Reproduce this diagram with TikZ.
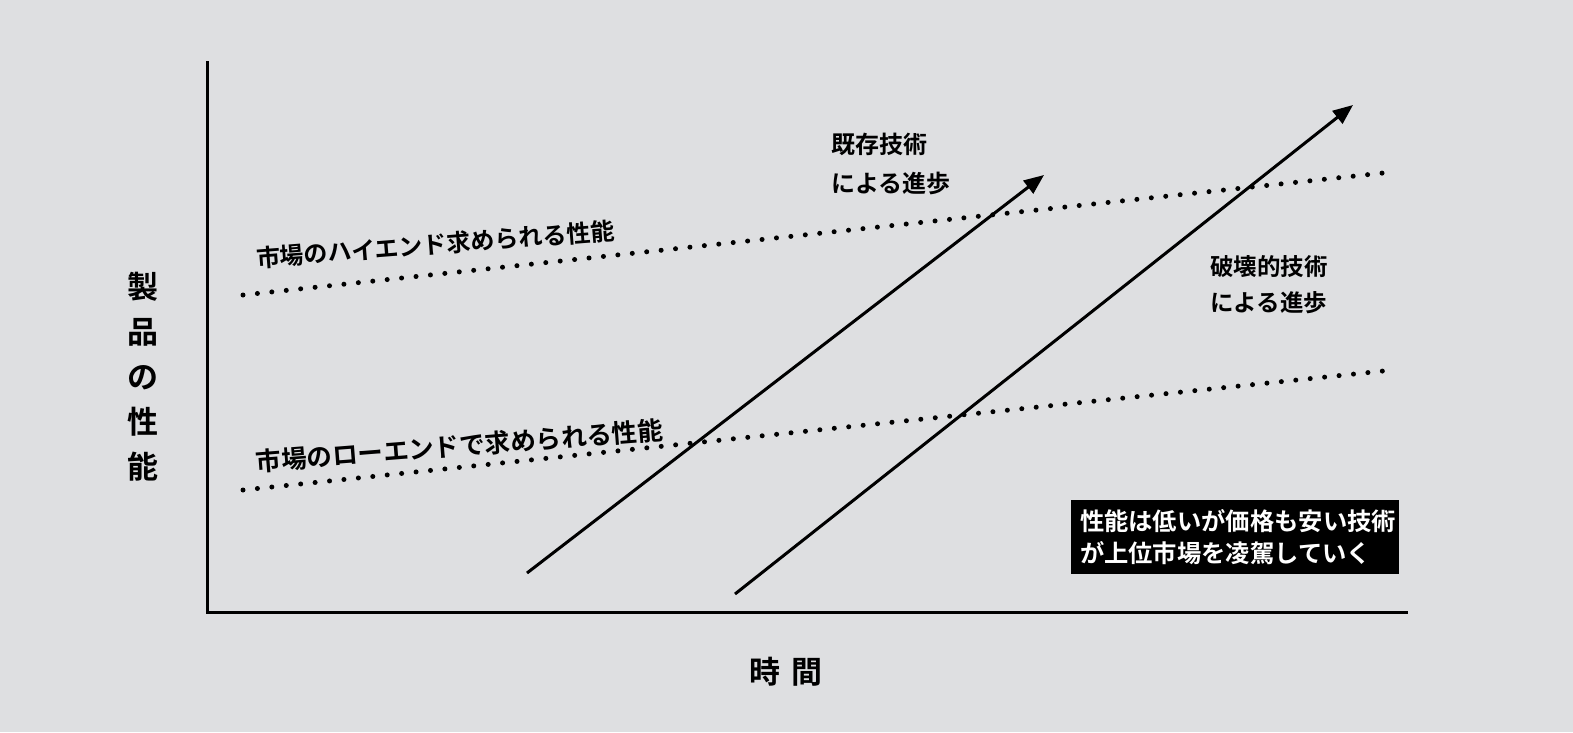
\documentclass[tikz,border=0pt]{standalone}
\usepackage{fontspec}
\usetikzlibrary{arrows.meta}
\newfontfamily\jp{Noto Sans CJK JP}[UprightFont=* Bold]
\definecolor{bg}{RGB}{222,223,225}
\tikzset{
  axisline/.style={line width=3pt, line cap=rect},
  trendarrow/.style={line width=3pt, -{Triangle[length=20pt,width=16pt]}},
  dotline/.style={line width=5pt, line cap=round, dash pattern=on 0pt off 14.5pt},
  lbl/.style={font=\jp\fontsize{24}{39}\selectfont, inner sep=0pt, align=left, text=black},
  rlbl/.style={inner sep=0pt, rotate=4.5, anchor=south west},
  blackbox/.style={fill=black, text=white, font=\jp\fontsize{24.3}{32}\selectfont, align=left,
    minimum width=328pt, minimum height=74pt, inner xsep=9pt, inner ysep=0pt, text width=310pt}
}
\begin{document}
\begin{tikzpicture}[x=1pt,y=-1pt]
\fill[bg] (0,0) rectangle (1573,732);
\useasboundingbox (0,0) rectangle (1573,732);
% axes
\coordinate (top) at (207,62);
\coordinate (origin) at (207,612);
\coordinate (right) at (1406,612);
\draw[axisline] (top) -- (origin) -- (right);
% dotted lines
\coordinate (h1) at (243,295);
\coordinate (h2) at (1383,173);
\coordinate (l1) at (243,490);
\coordinate (l2) at (1383,371);
\draw[dotline] (h1) -- (h2);
\draw[dotline] (l1) -- (l2);
% arrows
\coordinate (a1s) at (527,573);
\coordinate (a1e) at (1044,175);
\coordinate (a2s) at (735,594);
\coordinate (a2e) at (1353,105);
\draw[trendarrow] (a1s) -- (a1e);
\draw[trendarrow] (a2s) -- (a2e);
% labels
\node[rlbl, font=\jp\fontsize{24}{26}\selectfont] (high) at (257,270) {市場のハイエンド求められる性能};
\node[rlbl, font=\jp\fontsize{25.5}{28}\selectfont] (low) at (257,474) {市場のローエンドで求められる性能};
\node[lbl, anchor=west] (exist) at (831,164) {既存技術\\による進歩};
\node[lbl, anchor=west, font=\jp\fontsize{23.5}{36}\selectfont] (disrupt) at (1210,285) {破壊的技術\\による進歩};
\node[lbl, align=center, font=\jp\fontsize{31}{45}\selectfont] (ylab) at (143,377) {製\\品\\の\\性\\能};
\node[lbl, font=\jp\fontsize{31}{34}\selectfont] (xlab) at (786,672) {時\hspace{11pt}間};
\node[blackbox] (note) at (1235,537) {性能は低いが価格も安い技術\\が上位市場を凌駕していく};
\end{tikzpicture}
\end{document}
